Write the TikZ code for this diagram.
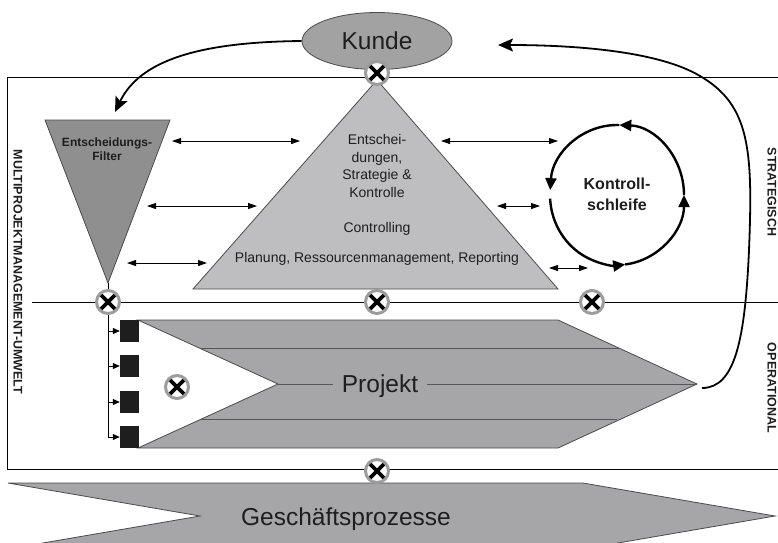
\documentclass[tikz,border=0pt]{standalone}
\usepackage{fontspec}
\setmainfont{Liberation Sans}
\usetikzlibrary{arrows.meta,shapes.geometric}

\definecolor{kundegray}{HTML}{A2A2A2}
\definecolor{pyrgray}{HTML}{BEBEC0}
\definecolor{filtgray}{HTML}{8F8F8F}
\definecolor{projgray}{HTML}{A6A6A9}
\definecolor{ringgray}{HTML}{9C9C9C}
\definecolor{ink}{HTML}{1E1E1E}

\begin{document}
\begin{tikzpicture}[x=1pt,y=-1pt,
  every node/.style={text=ink},
  xcirc/.style={circle,draw=ringgray,line width=3pt,fill=white,minimum size=23pt,inner sep=0pt,
    path picture={\draw[line width=3.6pt,black]
      (path picture bounding box.north west) -- (path picture bounding box.south east)
      (path picture bounding box.south west) -- (path picture bounding box.north east);}},
  dbl/.style={line width=0.8pt,{Triangle[length=9pt,width=6pt]}-{Triangle[length=9pt,width=6pt]}},
  bigarr/.style={line width=1.8pt,-{Stealth[length=15pt,width=13pt,inset=3pt]}},
  looparr/.style={line width=2.4pt,-{Triangle[length=12pt,width=11pt]}},
  outl/.style={draw=ink!80,line width=0.8pt},
  pline/.style={draw=ink!75,line width=0.8pt},
  blk/.style={fill=ink,minimum width=19pt,minimum height=22pt,inner sep=0pt},
  side/.style={font=\bfseries\fontsize{12.5}{14}\selectfont,rotate=-90},
  big/.style={font=\fontsize{24.5}{29}\selectfont}]
  \useasboundingbox (0,0) rectangle (778,542);
  \clip (0,0) rectangle (778,542);

  % frame and level line
  \draw[line width=0.9pt] (7,77) rectangle (790,469);
  \draw[line width=0.9pt] (32,302) -- (790,302);

  % Geschaeftsprozesse
  \filldraw[outl,fill=projgray] (8,483) -- (583,483) -- (775,516) -- (583,549) -- (8,549) -- (200,516) -- cycle;
  \node[big,anchor=base] (gp) at (346,525) {Geschäftsprozesse};

  % Projekt
  \filldraw[outl,fill=projgray] (138,320) -- (558,320) -- (697,384) -- (558,448) -- (138,448) -- (278,384) -- cycle;
  \draw[pline] (200,348) -- (619,348);
  \draw[pline] (201,419) -- (617,419);
  \draw[pline] (278,384) -- (697,384);
  \node[big,anchor=base,fill=projgray,inner sep=9pt] (projekt) at (380,392) {Projekt};
  \coordinate (ptip) at (702,388);

  \foreach \i/\y in {1/331,2/366,3/402,4/437}
    \node[blk] (sq\i) at (129.5,\y) {};

  % pyramid
  \filldraw[outl,fill=pyrgray] (377,80) -- (558,289) -- (193,289) -- cycle;
  \node[align=center,font=\fontsize{14}{17.5}\selectfont] (strat) at (377,166)
    {Entschei-\\dungen,\\Strategie \&\\Kontrolle};
  \node[anchor=base,font=\fontsize{14}{17}\selectfont] (ctrl) at (377,232) {Controlling};
  \node[anchor=base,font=\fontsize{14}{17}\selectfont] (plan) at (377,262)
    {Planung, Ressourcenmanagement, Reporting};

  % filter
  \filldraw[outl,fill=filtgray] (45,120) -- (170,120) -- (108,283) -- cycle;
  \node[align=center,font=\bfseries\fontsize{12}{14}\selectfont] (filt) at (107,149)
    {Entscheidungs-\\Filter};
  \coordinate (ftop) at (115,112);

  % Kunde
  \node[ellipse,outl,fill=kundegray,minimum width=150pt,minimum height=57pt,inner sep=0pt,big] (kunde) at (377,41) {Kunde};
  \coordinate (kin) at (498,45);

  % control loop
  \node[align=center,font=\bfseries\fontsize{16}{21}\selectfont] (loop) at (617,194) {Kontroll-\\schleife};
  \draw[looparr,shift={(617,195)}] (0:67 and 70) arc[start angle=0,end angle=-88,x radius=67,y radius=70];
  \draw[looparr,shift={(617,195)}] (-88:67 and 70) arc[start angle=-88,end angle=-176,x radius=67,y radius=70];
  \draw[looparr,shift={(617,195)}] (-183:67 and 70) arc[start angle=-183,end angle=-277,x radius=67,y radius=70];
  \draw[looparr,shift={(617,195)}] (-277:67 and 70) arc[start angle=-277,end angle=-360,x radius=67,y radius=70];

  % double arrows
  \draw[dbl] (172,141) -- (300,141);
  \draw[dbl] (147,206) -- (257,206);
  \draw[dbl] (127,263) -- (207,263);
  \draw[dbl] (441,141) -- (558,141);
  \draw[dbl] (497,206) -- (540,206);
  \draw[dbl] (549,268) -- (588,268);

  % crossings
  \node[xcirc] (xk) at (377,73) {};
  \node[xcirc] (xf) at (108,302) {};
  \node[xcirc] (xp) at (377,302) {};
  \node[xcirc] (xl) at (592,302) {};
  \node[xcirc] (xi) at (177,387) {};
  \node[xcirc] (xg) at (377,471) {};

  \draw[line width=0.8pt] (108,283) -- (xf);
  \draw[line width=0.8pt] (xf.south) -- (xf.south |- sq4.west);
  \foreach \i in {1,...,4}
    \draw[line width=0.8pt,-{Triangle[length=7pt,width=6pt]}] (xf.south |- sq\i.west) -- (sq\i.west);

  % flows
  \draw[bigarr] (kunde.west) .. controls (200,42) and (140,60) .. (ftop);
  \draw[bigarr] (ptip) .. controls (735,388) and (745,340) .. (749,250)
    .. controls (753,150) and (750,105) .. (700,76)
    .. controls (660,52) and (580,45) .. (kin);

  % side labels
  \node[side] (umwelt) at (18,272) {MULTIPROJEKTMANAGEMENT-UMWELT};
  \node[side] (strlab) at (772,192) {STRATEGISCH};
  \node[side] (oplab) at (772,388) {OPERATIONAL};
\end{tikzpicture}
\end{document}
